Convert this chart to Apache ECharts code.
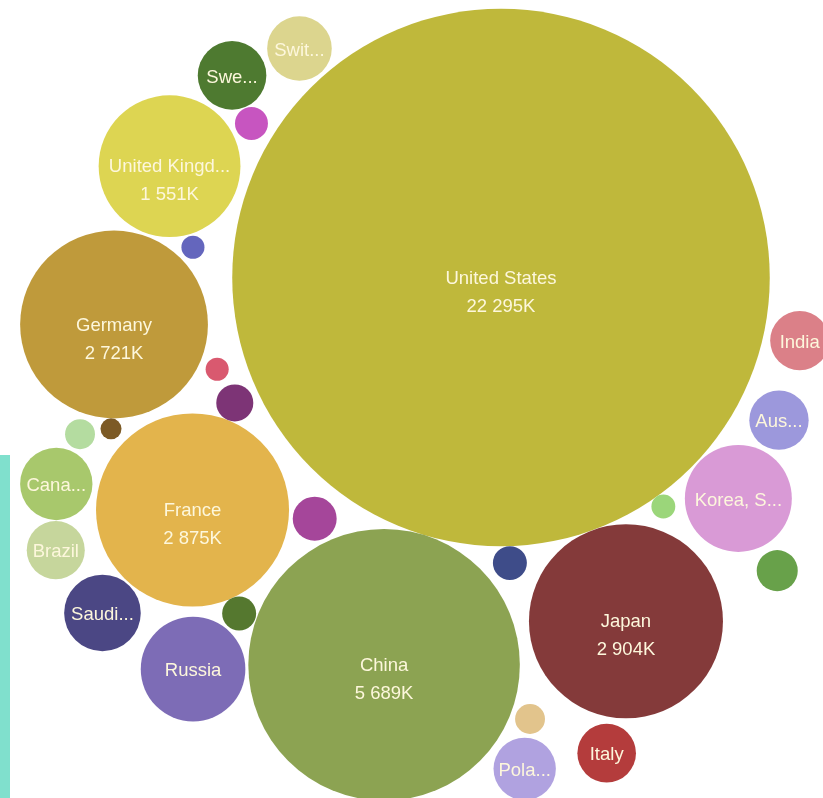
<!DOCTYPE html>
<html>
<head>
<meta charset="utf-8">
<title>Packed bubbles</title>
<script src="https://cdn.jsdelivr.net/npm/echarts@6/dist/echarts.min.js"></script>
<style>
  html, body { margin: 0; padding: 0; background: #ffffff; }
  #chart { width: 823px; height: 798px; }
</style>
</head>
<body>
<div id="chart"></div>
<script>
// Values in thousands
const countries = [
  'United States', 'China', 'Japan', 'France', 'Germany', 'United Kingdom',
  'Korea, South', 'Russia', 'Saudi Arabia', 'Canada', 'Sweden', 'Switzerland',
  'Poland', 'Australia', 'India', 'Italy', 'Brazil',
  'Spain', 'Mexico', 'Netherlands', 'Turkey', 'Indonesia', 'Belgium',
  'Norway', 'Austria', 'Denmark', 'Finland', 'Argentina', 'Iran'
];
const values = [
  22295, 5689, 2904, 2875, 2721, 1551,
  883, 844, 453, 404, 363, 322,
  300, 272, 269, 265, 260,
  149, 130, 106, 89, 89, 84,
  69, 69, 44, 41, 41, 34
];
const colors = [
  '#bfb83b', '#8ca352', '#843a3a', '#e3b44c', '#bf9a3b', '#ddd552',
  '#d99ad6', '#7d6cb6', '#4b4784', '#a8c86c', '#4e7a30', '#dcd58e',
  '#b0a2e0', '#9c98dc', '#db8088', '#b43c3c', '#c6d69c',
  '#a5469a', '#68a14a', '#7d3476', '#3e4c89', '#55782f', '#c755c0',
  '#e2c48c', '#b4dca0', '#9bd67a', '#6466bd', '#d9596f', '#7c5a25'
];

// Packing order: each circle rests against two circles that are already placed,
// on the clockwise side of the first-to-second direction, leaving the given
// spacing (px) to each of them.
const packing = [
  ['China', 'United States', null, 0],
  ['Japan', 'China', 'United States', 13, 0],
  ['Korea, South', 'Japan', 'United States', 16, 2],
  ['Australia', 'Korea, South', 'United States', 5, 14],
  ['India', 'Australia', 'United States', 23, 7],
  ['Denmark', 'United States', 'Korea, South', 0, 10],
  ['Mexico', 'Japan', 'Korea, South', 42, 8],
  ['Turkey', 'China', 'United States', 9, 0],
  ['Norway', 'China', 'Japan', 5, 25],
  ['Poland', 'China', 'Norway', 8, 4],
  ['Italy', 'Poland', 'Japan', 23, 7],
  ['Spain', 'United States', 'China', 14, 4],
  ['France', 'Spain', 'China', 4, 14],
  ['Netherlands', 'United States', 'France', 7, 0],
  ['Argentina', 'United States', 'Netherlands', 18, 8],
  ['Germany', 'Argentina', 'France', 7, 11],
  ['United Kingdom', 'United States', 'Germany', 10, 3],
  ['Finland', 'Germany', 'United Kingdom', 5, 2],
  ['Belgium', 'United States', 'United Kingdom', 8, 5],
  ['Sweden', 'Belgium', 'United Kingdom', 1, 5],
  ['Switzerland', 'United States', 'Sweden', 4, 6],
  ['Indonesia', 'France', 'China', 0, 1],
  ['Russia', 'Indonesia', 'China', 3, 3],
  ['Saudi Arabia', 'France', 'Russia', 2, 16],
  ['Iran', 'Germany', 'France', 0, 8],
  ['Austria', 'Germany', 'Iran', 6, 6],
  ['Canada', 'Austria', 'France', 4, 6],
  ['Brazil', 'Canada', 'France', 1, 17]
];

const WIDTH = 823, HEIGHT = 798;
const RADIUS_PER_ROOT = 1.8;          // px of radius per sqrt(value): area follows value
const START_ANGLE = 106.8 * Math.PI / 180;
const ROOT_X = 501, ROOT_Y = 277.5;   // where the largest bubble sits in the view
const FONT_SIZE = 18.5;
const FONT_FAMILY = 'Arial, "Liberation Sans", sans-serif';
const TEXT_COLOR = '#fdf7dc';

// ---- circle packing ----
const nodes = {};
countries.forEach((name, i) => {
  nodes[name] = { name, value: values[i], color: colors[i], r: RADIUS_PER_ROOT * Math.sqrt(values[i]) };
});
nodes[countries[0]].x = 0;
nodes[countries[0]].y = 0;

packing.forEach(([name, a, b, gapA, gapB]) => {
  const c = nodes[name], A = nodes[a];
  const da = A.r + c.r + gapA;
  if (!b) {
    c.x = A.x + da * Math.cos(START_ANGLE);
    c.y = A.y + da * Math.sin(START_ANGLE);
    return;
  }
  const B = nodes[b];
  const db = B.r + c.r + gapB;
  const dx = B.x - A.x, dy = B.y - A.y, d = Math.hypot(dx, dy);
  const cosT = Math.max(-1, Math.min(1, (da * da + d * d - db * db) / (2 * da * d)));
  const ang = Math.atan2(dy, dx) + Math.acos(cosT);
  c.x = A.x + da * Math.cos(ang);
  c.y = A.y + da * Math.sin(ang);
});

// ---- labels ----
const measure = document.createElement('canvas').getContext('2d');
measure.font = FONT_SIZE + 'px ' + FONT_FAMILY;
function fitText(text, maxWidth) {
  if (measure.measureText(text).width <= maxWidth) return text;
  let s = text;
  while (s.length > 1) {
    s = s.slice(0, -1);
    const t = s.replace(/\s+$/, '') + '...';
    if (measure.measureText(t).width <= maxWidth) return t;
  }
  return '';
}
const formatValue = v => String(v).replace(/\B(?=(\d{3})+(?!\d))/g, ' ') + 'K';

const data = countries.map(name => {
  const n = nodes[name];
  const showName = n.r >= 25;
  const showValue = n.r >= 60;
  const text = showName
    ? fitText(name, 2 * n.r * 0.87) + (showValue ? '\n' + formatValue(n.value) : '')
    : '';
  return {
    name,
    value: [n.x, n.y, n.value],
    symbolSize: 2 * n.r,
    itemStyle: { color: n.color },
    label: { show: showName, formatter: text, offset: [0, showValue ? 15 : 2] }
  };
});

const chart = echarts.init(document.getElementById('chart'), null, { renderer: 'canvas' });
chart.setOption({
  animation: false,
  backgroundColor: '#ffffff',
  grid: { left: 0, right: 0, top: 0, bottom: 0 },
  xAxis: { type: 'value', min: -ROOT_X, max: WIDTH - ROOT_X, show: false },
  yAxis: { type: 'value', inverse: true, min: -ROOT_Y, max: HEIGHT - ROOT_Y, show: false },
  graphic: [{
    type: 'rect',
    left: 0,
    top: 455,
    shape: { width: 10, height: HEIGHT - 455 },
    style: { fill: '#80e0cd' },
    z: 0
  }],
  series: [{
    type: 'scatter',
    symbol: 'circle',
    clip: false,
    data,
    label: {
      position: 'inside',
      color: TEXT_COLOR,
      fontSize: FONT_SIZE,
      fontFamily: FONT_FAMILY,
      lineHeight: 28
    },
    itemStyle: { opacity: 1 },
    emphasis: { scale: false }
  }]
});
</script>
</body>
</html>
